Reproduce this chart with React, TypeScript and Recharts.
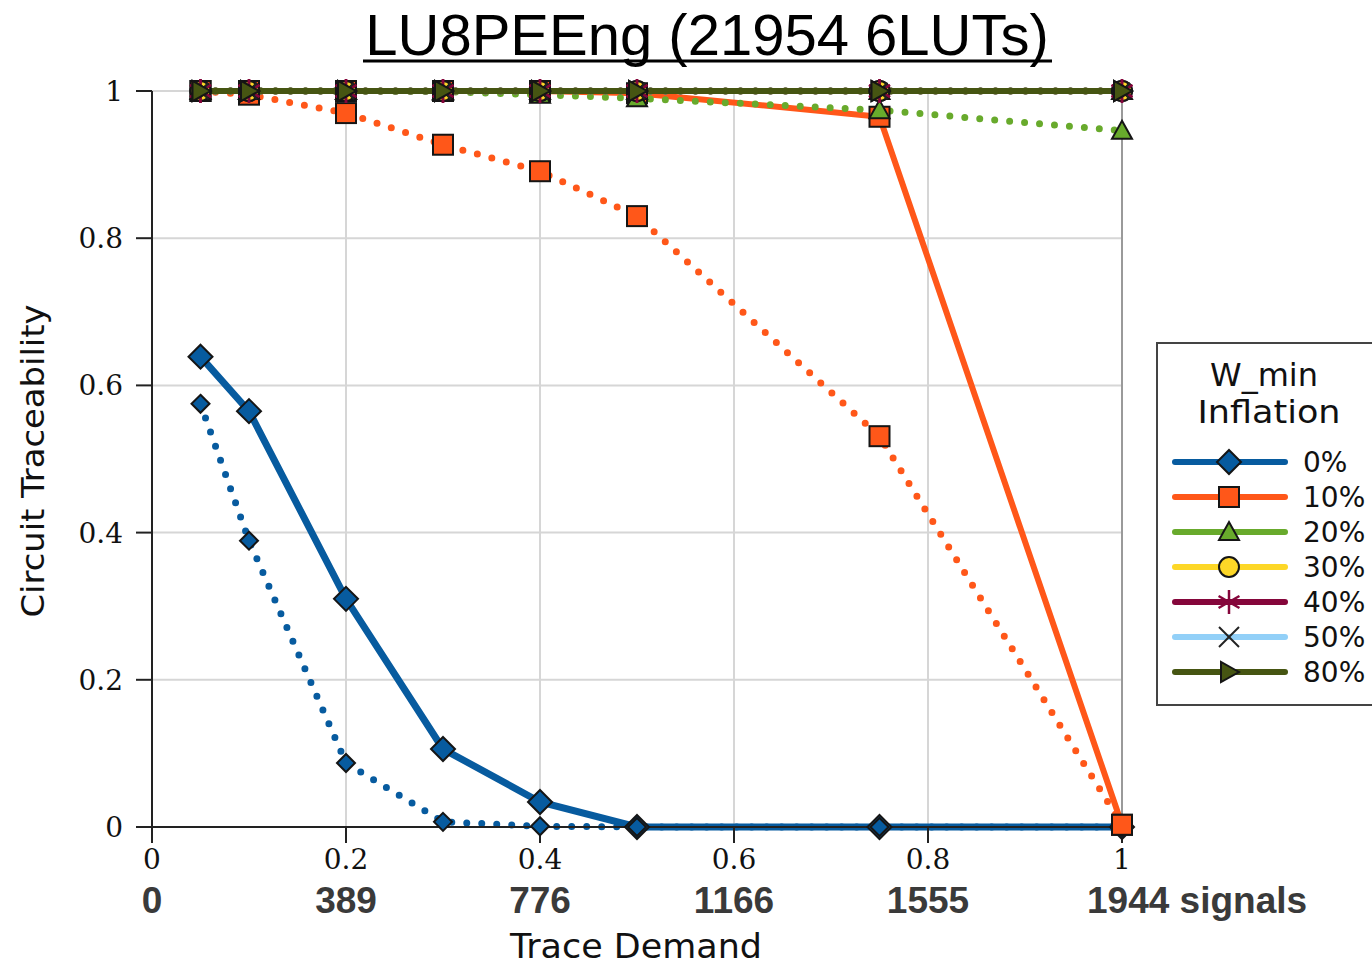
import React from 'react';
import {
  CartesianGrid,
  Line,
  LineChart,
  ReferenceLine,
  XAxis,
  YAxis,
} from 'recharts';

// Trace demand (fraction of signals) where each run was measured
const demand = [0.05, 0.1, 0.2, 0.3, 0.4, 0.5, 0.75, 1.0];

// Solid lines
const solid0 = [0.639, 0.565, 0.31, 0.106, 0.034, 0, 0, 0];
const solid10 = [1, 1, 1, 1, 1, 0.997, 0.965, 0.003];
const solid20 = [1, 1, 1, 1, 1, 1, 1, 1];
const solid30 = [1, 1, 1, 1, 1, 1, 1, 1];
const solid40 = [1, 1, 1, 1, 1, 1, 1, 1];
const solid50 = [1, 1, 1, 1, 1, 1, 1, 1];
const solid80 = [1, 1, 1, 1, 1, 1, 1, 1];

// Dotted lines
const dotted0 = [0.575, 0.389, 0.087, 0.007, 0.001, 0, 0, 0];
const dotted10 = [1, 0.995, 0.97, 0.927, 0.891, 0.83, 0.531, 0.003];
const dotted20 = [1, 1, 1, 0.999, 0.995, 0.99, 0.974, 0.946];
const dotted30 = [1, 1, 1, 1, 1, 1, 1, 1];
const dotted40 = [1, 1, 1, 1, 1, 1, 1, 1];
const dotted50 = [1, 1, 1, 1, 1, 1, 1, 1];
const dotted80 = [1, 1, 1, 1, 1, 1, 1, 1];

const xTicks = [0, 0.2, 0.4, 0.6, 0.8, 1];
const xTickLabels = ['0', '0.2', '0.4', '0.6', '0.8', '1'];
const signalLabels = ['0', '389', '776', '1166', '1555', '1944'];
const yTicks = [0, 0.2, 0.4, 0.6, 0.8, 1];
const yTickLabels = ['0', '0.2', '0.4', '0.6', '0.8', '1'];

const inflationNames = ['0%', '10%', '20%', '30%', '40%', '50%', '80%'];
const inflationColors = ['#075b9f', '#ff5719', '#68aa2c', '#fdd727', '#85063b', '#92d0f8', '#465512'];
const inflationShapes = ['diamond', 'square', 'triangle', 'circle', 'star', 'cross', 'right'];
const solidValues = [solid0, solid10, solid20, solid30, solid40, solid50, solid80];
const dottedValues = [dotted0, dotted10, dotted20, dotted30, dotted40, dotted50, dotted80];

const rows = demand.map((x, i) => {
  const row: any = { x };
  inflationNames.forEach((_, k) => {
    row[`s${k}`] = solidValues[k][i];
    row[`d${k}`] = dottedValues[k][i];
  });
  return row;
});

const Marker = ({ shape, cx, cy, r, color }: any) => {
  const edge = '#151515';
  switch (shape) {
    case 'diamond':
      return (
        <polygon
          points={`${cx},${cy - r} ${cx + r},${cy} ${cx},${cy + r} ${cx - r},${cy}`}
          fill={color}
          stroke={edge}
          strokeWidth={2}
        />
      );
    case 'square':
      return (
        <rect x={cx - r} y={cy - r} width={2 * r} height={2 * r} fill={color} stroke={edge} strokeWidth={2} />
      );
    case 'triangle':
      return (
        <polygon
          points={`${cx},${cy - r} ${cx + r},${cy + r * 0.8} ${cx - r},${cy + r * 0.8}`}
          fill={color}
          stroke={edge}
          strokeWidth={2}
        />
      );
    case 'circle':
      return <circle cx={cx} cy={cy} r={r} fill={color} stroke={edge} strokeWidth={2} />;
    case 'star': {
      const s = r * 1.2;
      const d = s * 0.87;
      const h = s * 0.5;
      return (
        <g stroke={color} strokeWidth={2.5}>
          <line x1={cx} y1={cy - s} x2={cx} y2={cy + s} />
          <line x1={cx - d} y1={cy - h} x2={cx + d} y2={cy + h} />
          <line x1={cx - d} y1={cy + h} x2={cx + d} y2={cy - h} />
        </g>
      );
    }
    case 'cross':
      return (
        <g stroke="#222" strokeWidth={2}>
          <line x1={cx - r} y1={cy - r} x2={cx + r} y2={cy + r} />
          <line x1={cx - r} y1={cy + r} x2={cx + r} y2={cy - r} />
        </g>
      );
    default:
      return (
        <polygon
          points={`${cx + r},${cy} ${cx - r * 0.8},${cy - r} ${cx - r * 0.8},${cy + r}`}
          fill={color}
          stroke={edge}
          strokeWidth={2}
        />
      );
  }
};

const dotFor = (k: number, big: boolean) => (props: any) => {
  const { cx, cy, index } = props;
  const shape = inflationShapes[k];
  const r = shape === 'diamond' ? (big ? 12 : 9) : shape === 'cross' ? 8 : 10;
  return (
    <Marker
      key={`${big ? 's' : 'd'}${k}-${index}`}
      shape={shape}
      cx={cx}
      cy={cy}
      r={r}
      color={inflationColors[k]}
    />
  );
};

// tick label rows sit at fixed distances under the bottom axis line (y = 827)
const XTick = ({ x, payload, index }: any) => {
  const i = index ?? xTicks.indexOf(payload.value);
  const last = i === xTicks.length - 1;
  return (
    <g>
      <text x={x} y={869} textAnchor="middle" fontFamily="DejaVu Serif" fontSize={28} fill="#111">
        {xTickLabels[i]}
      </text>
      <text
        x={last ? x - 35 : x}
        y={913}
        textAnchor={last ? 'start' : 'middle'}
        fontFamily="Liberation Sans"
        fontWeight="bold"
        fontSize={37}
        fill="#3a3a3a"
      >
        {last ? `${signalLabels[i]} signals` : signalLabels[i]}
      </text>
    </g>
  );
};

const YTick = ({ y, payload, index }: any) => {
  const i = index ?? yTicks.indexOf(payload.value);
  return (
    <text x={123} y={y + 10} textAnchor="end" fontFamily="DejaVu Serif" fontSize={28} fill="#111">
      {yTickLabels[i]}
    </text>
  );
};

const LegendBox = () => (
  <g>
    <rect x={1157} y={343} width={240} height={362} fill="#fff" stroke="#444" strokeWidth={2} />
    <text x={1264} y={386} textAnchor="middle" fontFamily="DejaVu Sans" fontSize={32} fill="#111" textLength={108} lengthAdjust="spacingAndGlyphs">
      W_min
    </text>
    <text x={1269} y={423} textAnchor="middle" fontFamily="DejaVu Sans" fontSize={32} fill="#111" textLength={143} lengthAdjust="spacingAndGlyphs">
      Inflation
    </text>
    {inflationNames.map((name, k) => {
      const cy = 462 + k * 35;
      return (
        <g key={name}>
          <line x1={1175} y1={cy} x2={1285} y2={cy} stroke={inflationColors[k]} strokeWidth={6} strokeLinecap="round" />
          <Marker shape={inflationShapes[k]} cx={1229} cy={cy} r={inflationShapes[k] === 'diamond' ? 12 : 10} color={inflationColors[k]} />
          <text x={1303} y={cy + 10} fontFamily="DejaVu Sans" fontSize={28} fill="#111">
            {name}
          </text>
        </g>
      );
    })}
  </g>
);

export default function App() {
  return (
    <div style={{ position: 'absolute', left: 0, top: 0, width: 1372, height: 967, background: '#fff' }}>
      <LineChart
        width={1372}
        height={967}
        data={rows}
        margin={{ top: 91, right: 250, bottom: 40, left: 52 }}
      >
        <CartesianGrid stroke="#d6d6d6" strokeWidth={2} />
        <XAxis
          type="number"
          dataKey="x"
          domain={[0, 1]}
          ticks={xTicks}
          height={100}
          tickSize={16}
          tick={<XTick />}
          axisLine={{ stroke: '#222', strokeWidth: 2 }}
          tickLine={{ stroke: '#222', strokeWidth: 2 }}
        />
        <YAxis
          type="number"
          domain={[0, 1]}
          ticks={yTicks}
          width={100}
          tickSize={16}
          tick={<YTick />}
          axisLine={{ stroke: '#222', strokeWidth: 2 }}
          tickLine={{ stroke: '#222', strokeWidth: 2 }}
        />
        <ReferenceLine x={1} stroke="#9a9a9a" strokeWidth={2} />
        {inflationNames.flatMap((name, k) => [
          <Line
            key={`s${k}`}
            type="linear"
            dataKey={`s${k}`}
            name={name}
            stroke={inflationColors[k]}
            strokeWidth={k === 0 ? 7 : 6}
            dot={dotFor(k, true)}
            activeDot={false}
            isAnimationActive={false}
          />,
          <Line
            key={`d${k}`}
            type="linear"
            dataKey={`d${k}`}
            name={`${name} dotted`}
            stroke={inflationColors[k]}
            strokeWidth={7}
            strokeDasharray="0 15"
            strokeLinecap="round"
            dot={dotFor(k, false)}
            activeDot={false}
            isAnimationActive={false}
          />,
        ])}
      </LineChart>
      <svg
        width={1372}
        height={967}
        style={{ position: 'absolute', left: 0, top: 0, pointerEvents: 'none' }}
      >
        <text x={707} y={55} textAnchor="middle" fontFamily="Liberation Sans" fontSize={58} fill="#000">
          LU8PEEng (21954 6LUTs)
        </text>
        <line x1={363} y1={61} x2={1052} y2={61} stroke="#000" strokeWidth={3} />
        <text
          transform="translate(44,461) rotate(-90)"
          textAnchor="middle"
          fontFamily="DejaVu Sans"
          fontSize={32}
          fill="#111"
          textLength={313}
          lengthAdjust="spacingAndGlyphs"
        >
          Circuit Traceability
        </text>
        <text
          x={636}
          y={958}
          textAnchor="middle"
          fontFamily="DejaVu Sans"
          fontSize={33}
          fill="#111"
          textLength={252}
          lengthAdjust="spacingAndGlyphs"
        >
          Trace Demand
        </text>
        <LegendBox />
      </svg>
    </div>
  );
}
